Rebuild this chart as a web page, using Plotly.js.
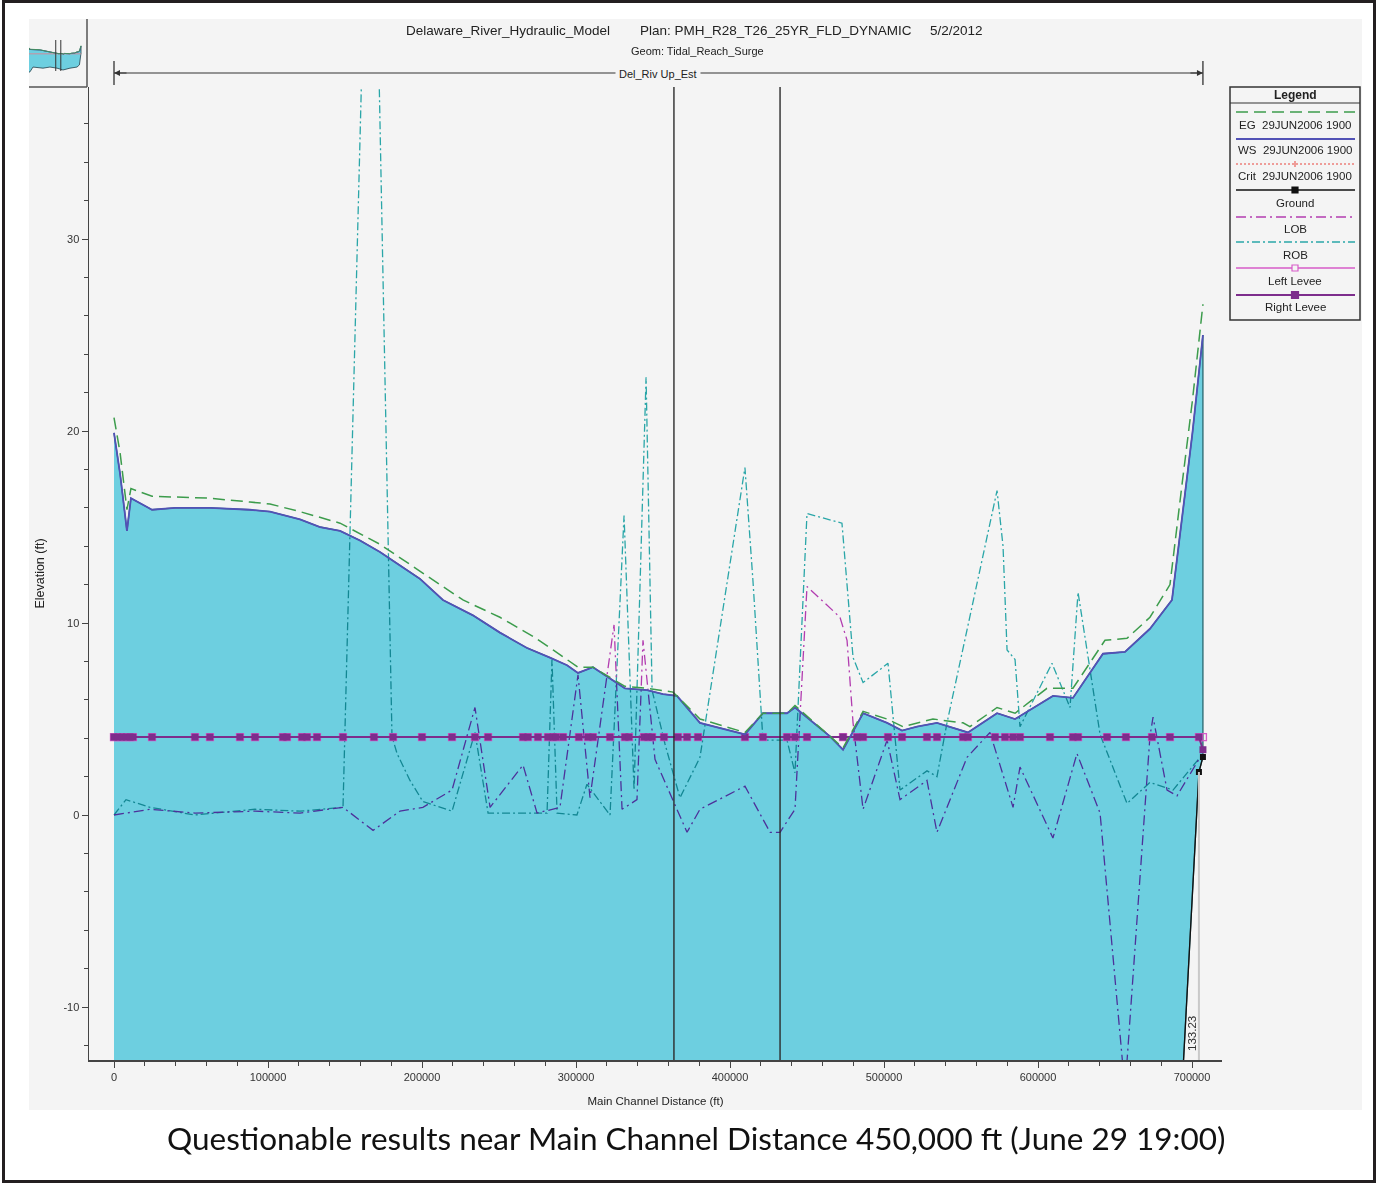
<!DOCTYPE html>
<html><head><meta charset="utf-8">
<script src="https://cdn.plot.ly/plotly-3.0.1.min.js"></script>
<style>
html,body{margin:0;padding:0;background:#fff;}
#chart{width:1377px;height:1183px;}
.js-fill{mix-blend-mode:multiply;}
</style></head>
<body><div id="chart"></div>
<script>
// ---------------- data ----------------
const wsStation = [0, 3900, 8400, 11000, 24700, 39600, 62300, 88300, 101300, 120800,
  133800, 146800, 159700, 172700, 185700, 198700, 213600, 233100, 250600, 268200,
  283100, 294200, 301300, 311000, 331800, 346100, 356500, 365600, 380500, 409700,
  421400, 437000, 442200, 464900, 473400, 486400, 502000, 511700, 521400, 534400,
  554500, 573400, 585100, 609700, 622700, 642200, 656500, 672700, 687000, 693500,
  700300, 707100];
const wsElev = [19.9, 17.8, 14.8, 16.5, 15.9, 16.0, 16.0, 15.9, 15.8, 15.4,
  15.0, 14.8, 14.3, 13.7, 13.0, 12.3, 11.2, 10.4, 9.5, 8.7,
  8.2, 7.8, 7.4, 7.7, 6.6, 6.5, 6.3, 6.2, 4.8, 4.2,
  5.3, 5.3, 5.6, 4.1, 3.4, 5.3, 4.8, 4.4, 4.6, 4.8,
  4.3, 5.3, 5.0, 6.2, 6.1, 8.4, 8.5, 9.7, 11.2, 15.5,
  19.9, 25.0];

const egStation = [0, 3900, 8400, 11000, 24700, 62300, 88300, 101300, 120800, 146800,
  172700, 198700, 226600, 250600, 272100, 285100, 301300, 311000, 331800, 346100,
  363000, 380500, 409700, 421400, 437000, 442200, 464900, 473400, 486400, 502000,
  512400, 531800, 551300, 555800, 573400, 585100, 605800, 622700, 643500, 657800,
  672700, 685700, 693500, 700300, 707100];
const egElev = [20.7, 18.9, 15.9, 17.0, 16.6, 16.5, 16.3, 16.2, 15.8, 15.2,
  14.1, 12.7, 11.2, 10.3, 9.3, 8.6, 7.7, 7.7, 6.7, 6.6,
  6.4, 5.0, 4.3, 5.3, 5.3, 5.7, 4.1, 3.5, 5.4, 5.0,
  4.6, 5.0, 4.8, 4.6, 5.6, 5.3, 6.6, 6.6, 9.1, 9.2,
  10.3, 12.0, 17.2, 21.6, 26.6];

const lobStation = [0, 23400, 52600, 91600, 120800, 148700, 168200, 185700, 200600, 219500,
  234400, 244200, 265600, 274700, 289600, 301300, 309100, 324700, 329900, 339600,
  343500, 351300, 372100, 380500, 409700, 426000, 432500, 442200, 450000, 453900,
  471400, 476000, 479900, 486400, 502000, 510400, 527900, 534400, 553900, 568800,
  583800, 588300, 609700, 625300, 640300, 656500, 672700, 674700, 683800, 690300,
  705200];
const lobElev = [0.0, 0.3, 0.1, 0.2, 0.1, 0.4, -0.8, 0.2, 0.4, 1.3,
  5.6, 0.4, 2.6, 0.1, 0.4, 7.3, 0.9, 9.9, 0.3, 0.8,
  9.1, 2.9, -0.9, 0.3, 1.5, -0.9, -0.9, 0.3, 11.9, 11.6,
  10.3, 9.1, 4.8, 0.3, 3.9, 0.8, 1.8, -0.9, 3.0, 4.3,
  0.4, 2.5, -1.2, 3.2, 0.1, -14.3, 4.1, 5.1, 1.3, 1.0,
  3.0];

const robStation = [0, 7800, 23400, 52600, 91600, 120800, 148700, 167200, 180500, 183800,
  192200, 200600, 219500, 234400, 242900, 281200, 284400, 287700, 300600, 307100,
  322100, 331200, 337700, 345500, 349400, 357800, 367500, 380500, 409700, 414900,
  421400, 437000, 442200, 450000, 472700, 479900, 486400, 502600, 510400, 527900,
  534400, 540900, 573400, 577300, 579900, 585100, 588300, 609100, 620800, 626000,
  640300, 657800, 672700, 687700, 705200];
const robElev = [0.0, 0.8, 0.4, 0.0, 0.3, 0.2, 0.4, 58.7, 4.1, 3.2,
  1.8, 0.7, 0.2, 4.3, 0.1, 0.1, 8.1, 0.1, 0.0, 1.6,
  0.0, 15.6, 1.3, 22.8, 6.5, 3.7, 0.9, 3.0, 18.1, 12.2,
  3.9, 3.9, 2.2, 15.7, 15.2, 8.2, 6.9, 7.9, 1.3, 2.3,
  2.0, 4.8, 16.9, 14.0, 8.6, 8.1, 4.6, 7.9, 5.6, 11.6,
  4.2, 0.6, 1.7, 1.3, 3.0];

const leveeStation = [0, 2600, 5200, 7800, 10400, 12300, 24700, 52600, 62300, 81800,
  91600, 109700, 112300, 122100, 125300, 131800, 148700, 168800, 181200, 200000,
  219500, 234400, 242900, 265600, 268800, 275300, 281800, 285100, 287000, 291600,
  301900, 307800, 311000, 322100, 331800, 334400, 344200, 346800, 349400, 357100,
  366200, 372100, 379200, 409700, 421400, 437000, 442200, 450000, 473400, 482500,
  486400, 502600, 511700, 527900, 534400, 551300, 554500, 572100, 578600, 583800,
  588300, 607800, 622700, 626000, 644800, 657100, 674000, 685700, 704500, 707100];
const leftLeveeElev = [4.06, 4.06, 4.06, 4.06, 4.06, 4.06, 4.06, 4.06, 4.06, 4.06,
  4.06, 4.06, 4.06, 4.06, 4.06, 4.06, 4.06, 4.06, 4.06, 4.06,
  4.06, 4.06, 4.06, 4.06, 4.06, 4.06, 4.06, 4.06, 4.06, 4.06,
  4.06, 4.06, 4.06, 4.06, 4.06, 4.06, 4.06, 4.06, 4.06, 4.06,
  4.06, 4.06, 4.06, 4.06, 4.06, 4.06, 4.06, 4.06, 4.06, 4.06,
  4.06, 4.06, 4.06, 4.06, 4.06, 4.06, 4.06, 4.06, 4.06, 4.06,
  4.06, 4.06, 4.06, 4.06, 4.06, 4.06, 4.06, 4.06, 4.06, 4.06];
const rightLeveeElev = [4.06, 4.06, 4.06, 4.06, 4.06, 4.06, 4.06, 4.06, 4.06, 4.06,
  4.06, 4.06, 4.06, 4.06, 4.06, 4.06, 4.06, 4.06, 4.06, 4.06,
  4.06, 4.06, 4.06, 4.06, 4.06, 4.06, 4.06, 4.06, 4.06, 4.06,
  4.06, 4.06, 4.06, 4.06, 4.06, 4.06, 4.06, 4.06, 4.06, 4.06,
  4.06, 4.06, 4.06, 4.06, 4.06, 4.06, 4.06, 4.06, 4.06, 4.06,
  4.06, 4.06, 4.06, 4.06, 4.06, 4.06, 4.06, 4.06, 4.06, 4.06,
  4.06, 4.06, 4.06, 4.06, 4.06, 4.06, 4.06, 4.06, 4.06, 3.4];

const groundStation = [0, 13600, 54000, 190000, 285000, 381000, 462000, 557000, 653000, 685700, 704500, 707100];
const groundElev = [-46, -45, -32, -35, -32, -35, -40, -35, -32, -26, 2.24, 3.02];

const reachMarks = [363600, 432500];
const stationLabel = 704500;
const stationLabelText = '133.23';
const reachName = 'Del_Riv Up_Est';

const xTickVals = [0, 100000, 200000, 300000, 400000, 500000, 600000, 700000];
const xTickText = ['0', '100000', '200000', '300000', '400000', '500000', '600000', '700000'];
const yTickVals = [-10, 0, 10, 20, 30];
const yTickText = ['-10', '0', '10', '20', '30'];

const titleParts = ['Delaware_River_Hydraulic_Model', 'Plan: PMH_R28_T26_25YR_FLD_DYNAMIC', '5/2/2012'];
const subTitle = 'Geom: Tidal_Reach_Surge';
const xTitle = 'Main Channel Distance (ft)';
const yTitle = 'Elevation (ft)';
const caption = 'Questionable results near Main Channel Distance 450,000 ft (June 29 19:00)';
const legendTitle = 'Legend';
const legendNames = ['EG\u00a0 29JUN2006 1900', 'WS\u00a0 29JUN2006 1900', 'Crit\u00a0 29JUN2006 1900',
  'Ground', 'LOB', 'ROB', 'Left Levee', 'Right Levee'];

// ---------------- layout helpers (pixel -> paper) ----------------
const L = 29, R = 1222, T = 19, B = 1060;
const px = p => (p - L) / (R - L);
const py = p => (B - p) / (B - T);
const FONT = '"Liberation Sans", Arial, sans-serif';

const cWS = '#5252b6', cEG = '#3c9c4c', cLOB = '#b23cb0', cROB = '#2aa6a8',
      cLL = '#d75cc9', cRL = '#7d2d8c', cG = '#111111', cCrit = '#e8443c';
const fillC = '#6dcfe0';

const waterX = wsStation.concat(groundStation.slice().reverse());
const waterY = wsElev.concat(groundElev.slice().reverse());

const traces = [
  {x: robStation, y: robElev, mode: 'lines', line: {color: cROB, width: 1.3, dash: '8px,3px,2px,3px'}, hoverinfo: 'skip'},
  {x: lobStation, y: lobElev, mode: 'lines', line: {color: cLOB, width: 1.3, dash: '10px,4px,2px,4px'}, hoverinfo: 'skip'},
  {x: waterX, y: waterY, mode: 'lines', fill: 'toself', fillcolor: fillC, line: {color: '#2a6870', width: 1.3}, hoverinfo: 'skip'},
  {x: groundStation, y: groundElev, mode: 'lines+markers', line: {color: cG, width: 1.3}, marker: {symbol: 'square', size: 6, color: cG}, hoverinfo: 'skip'},
  {x: leveeStation, y: leftLeveeElev, mode: 'lines+markers', line: {color: cLL, width: 1.5}, marker: {symbol: 'square-open', size: 7, color: cLL, line: {width: 1.3, color: cLL}}, hoverinfo: 'skip'},
  {x: leveeStation, y: rightLeveeElev, mode: 'lines+markers', line: {color: cRL, width: 2}, marker: {symbol: 'square', size: 7, color: cRL}, hoverinfo: 'skip'},
  {x: wsStation, y: wsElev, mode: 'lines', line: {color: cWS, width: 1.8}, hoverinfo: 'skip'},
  {x: egStation, y: egElev, mode: 'lines', line: {color: cEG, width: 1.5, dash: '12px,6px'}, hoverinfo: 'skip'},
  // thumbnail (overview) of the same profile
  {x: waterX, y: waterY, mode: 'lines', fill: 'toself', fillcolor: fillC, line: {color: '#1f3f4a', width: 0.8}, xaxis: 'x2', yaxis: 'y2', hoverinfo: 'skip'},
  {x: leveeStation, y: leftLeveeElev, mode: 'lines', line: {color: '#e87a8a', width: 0.8}, xaxis: 'x2', yaxis: 'y2', hoverinfo: 'skip'},
  {x: wsStation, y: wsElev, mode: 'lines', line: {color: cWS, width: 0.8}, xaxis: 'x2', yaxis: 'y2', hoverinfo: 'skip'},
  {x: egStation, y: egElev, mode: 'lines', line: {color: cEG, width: 0.8}, xaxis: 'x2', yaxis: 'y2', hoverinfo: 'skip'}
];

const lastSt = wsStation[wsStation.length - 1];
const firstSt = wsStation[0];
const shapes = [];
const annotations = [];

// grey chart area and outer frame
shapes.push({type: 'rect', xref: 'paper', yref: 'paper', x0: px(29), x1: px(1362), y0: py(1110), y1: py(19), fillcolor: '#f4f4f4', line: {width: 0}, layer: 'below'});
shapes.push({type: 'rect', xref: 'paper', yref: 'paper', x0: px(3.5), x1: px(1374.5), y0: py(1181.5), y1: py(1.5), line: {color: '#231f20', width: 3}, layer: 'above'});

// thumbnail frame lines
shapes.push({type: 'line', xref: 'paper', yref: 'paper', x0: px(87), x1: px(87), y0: py(19), y1: py(87), line: {color: '#555', width: 1.5}});
shapes.push({type: 'line', xref: 'paper', yref: 'paper', x0: px(29), x1: px(87), y0: py(87), y1: py(87), line: {color: '#555', width: 1.5}});
reachMarks.forEach(s => shapes.push({type: 'line', xref: 'x2', yref: 'paper', x0: s, x1: s, y0: py(71), y1: py(40), line: {color: '#333', width: 1}}));

// reach marker lines in main plot
reachMarks.forEach(s => shapes.push({type: 'line', xref: 'x', yref: 'y domain', x0: s, x1: s, y0: 0, y1: 1, line: {color: '#2b2b2b', width: 1.4}, layer: 'above'}));

// station label line
const gIdx = groundStation.indexOf(stationLabel);
shapes.push({type: 'line', xref: 'x', yref: 'y', x0: stationLabel, x1: stationLabel, y0: -12.76, y1: groundElev[gIdx], line: {color: '#c9c9c9', width: 2}, layer: 'above'});
annotations.push({xref: 'x', yref: 'paper', x: stationLabel, y: py(1033), xshift: -7, xanchor: 'center', yanchor: 'middle', text: stationLabelText, textangle: -90, showarrow: false, font: {family: FONT, size: 11.5, color: '#333'}});

// reach arrow above plot
const yArr = py(73);
shapes.push({type: 'line', xref: 'x', yref: 'paper', x0: firstSt, x1: lastSt, y0: yArr, y1: yArr, line: {color: '#333', width: 1.2}});
[firstSt, lastSt].forEach(s => shapes.push({type: 'line', xref: 'x', yref: 'paper', x0: s, x1: s, y0: py(85), y1: py(61), line: {color: '#333', width: 1.3}}));
annotations.push({xref: 'x', yref: 'paper', x: firstSt, y: yArr, ax: 14, ay: 0, text: '', showarrow: true, arrowhead: 2, arrowsize: 1, arrowwidth: 1.2, arrowcolor: '#333'});
annotations.push({xref: 'x', yref: 'paper', x: lastSt, y: yArr, ax: -14, ay: 0, text: '', showarrow: true, arrowhead: 2, arrowsize: 1, arrowwidth: 1.2, arrowcolor: '#333'});
annotations.push({xref: 'x', yref: 'paper', x: (firstSt + lastSt) / 2, y: py(74), xanchor: 'center', yanchor: 'middle', text: reachName, showarrow: false, bgcolor: '#f4f4f4', borderpad: 3, font: {family: FONT, size: 11, color: '#222'}});

// titles
const titleX = [508, 776, 956];
titleParts.forEach((t, i) => annotations.push({xref: 'paper', yref: 'paper', x: px(titleX[i]), y: py(31), text: t, showarrow: false, xanchor: 'center', yanchor: 'middle', font: {family: FONT, size: 13.5, color: '#222'}}));
annotations.push({xref: 'paper', yref: 'paper', x: px(697), y: py(51), text: subTitle, showarrow: false, xanchor: 'center', yanchor: 'middle', font: {family: FONT, size: 11, color: '#222'}});

// caption
annotations.push({xref: 'paper', yref: 'paper', x: px(696), y: py(1138), text: caption, showarrow: false, xanchor: 'center', yanchor: 'middle', font: {family: 'Lato, "Noto Sans", sans-serif', size: 31.5, color: '#111'}});

// custom legend
const LX0 = 1230, LX1 = 1360, LXC = 1295;
shapes.push({type: 'rect', xref: 'paper', yref: 'paper', x0: px(LX0), x1: px(LX1), y0: py(320), y1: py(87), line: {color: '#333', width: 1.5}, fillcolor: '#f4f4f4'});
shapes.push({type: 'line', xref: 'paper', yref: 'paper', x0: px(LX0), x1: px(LX1), y0: py(103), y1: py(103), line: {color: '#333', width: 1.2}});
annotations.push({xref: 'paper', yref: 'paper', x: px(LXC), y: py(95), xanchor: 'center', yanchor: 'middle', text: '<b>' + legendTitle + '</b>', showarrow: false, font: {family: FONT, size: 12, color: '#222'}});
const sampleY = [112, 139, 164, 190, 217, 242, 268, 295];
const textY = [125, 150, 176, 203, 229, 255, 281, 307];
const sampleStyle = [
  {color: cEG, width: 1.5, dash: '12px,6px'},
  {color: cWS, width: 2, dash: 'solid'},
  {color: cCrit, width: 1.2, dash: '2px,2px'},
  {color: cG, width: 1.3, dash: 'solid'},
  {color: cLOB, width: 1.5, dash: '10px,4px,2px,4px'},
  {color: cROB, width: 1.5, dash: '8px,3px,2px,3px'},
  {color: cLL, width: 1.3, dash: 'solid'},
  {color: cRL, width: 2, dash: 'solid'}
];
legendNames.forEach((n, i) => {
  shapes.push({type: 'line', xref: 'paper', yref: 'paper', x0: px(1236), x1: px(1355), y0: py(sampleY[i]), y1: py(sampleY[i]), line: sampleStyle[i]});
  annotations.push({xref: 'paper', yref: 'paper', x: px(LXC), y: py(textY[i]), text: n, showarrow: false, xanchor: 'center', yanchor: 'middle', font: {family: FONT, size: 11.5, color: '#222'}});
});
const sq = (cx, cy, s, fill, lc) => shapes.push({type: 'rect', xref: 'paper', yref: 'paper', x0: px(cx - s), x1: px(cx + s), y0: py(cy + s), y1: py(cy - s), fillcolor: fill, line: {color: lc, width: 1.2}});
sq(LXC, sampleY[3], 3, cG, cG);
sq(LXC, sampleY[6], 3, '#f4f4f4', cLL);
sq(LXC, sampleY[7], 3.5, cRL, cRL);
shapes.push({type: 'line', xref: 'paper', yref: 'paper', x0: px(LXC), x1: px(LXC), y0: py(sampleY[2] + 3), y1: py(sampleY[2] - 3), line: {color: cCrit, width: 1}});

const axFont = {family: FONT, size: 11, color: '#333'};
const layout = {
  width: 1377, height: 1183,
  margin: {l: L, r: 1377 - R, t: T, b: 1183 - B, pad: 0},
  paper_bgcolor: '#ffffff',
  plot_bgcolor: '#f4f4f4',
  showlegend: false,
  hovermode: false,
  xaxis: {
    domain: [px(89), 1], range: [-16234, 719480], anchor: 'y',
    tickmode: 'array', tickvals: xTickVals, ticktext: xTickText,
    ticks: 'outside', ticklen: 6, tickwidth: 1, tickcolor: '#444',
    minor: {tickmode: 'linear', tick0: 0, dtick: 20000, ticks: 'outside', ticklen: 4, tickcolor: '#444', showgrid: false},
    showline: true, linecolor: '#444', linewidth: 1.5, showgrid: false, zeroline: false,
    tickfont: axFont, automargin: false,
    title: {text: xTitle, font: {family: FONT, size: 11.5, color: '#222'}, standoff: 15}
  },
  yaxis: {
    domain: [0, py(87)], range: [-12.76, 37.917], anchor: 'x',
    tickmode: 'array', tickvals: yTickVals, ticktext: yTickText,
    ticks: 'outside', ticklen: 6, tickwidth: 1, tickcolor: '#444',
    minor: {tickmode: 'linear', tick0: 0, dtick: 2, ticks: 'outside', ticklen: 4, tickcolor: '#444', showgrid: false},
    showline: true, linecolor: '#444', linewidth: 1.5, showgrid: false, zeroline: false,
    tickfont: axFont, automargin: false,
    title: {text: yTitle, font: {family: FONT, size: 12.5, color: '#222'}, standoff: 16}
  },
  xaxis2: {domain: [0, px(87)], range: [0, 788700], anchor: 'y2', visible: false, fixedrange: true},
  yaxis2: {domain: [py(87), 1], range: [-86.4, 99.1], anchor: 'x2', visible: false, fixedrange: true},
  shapes: shapes,
  annotations: annotations
};

Plotly.newPlot('chart', traces, layout, {staticPlot: true, displayModeBar: false});
</script></body></html>
